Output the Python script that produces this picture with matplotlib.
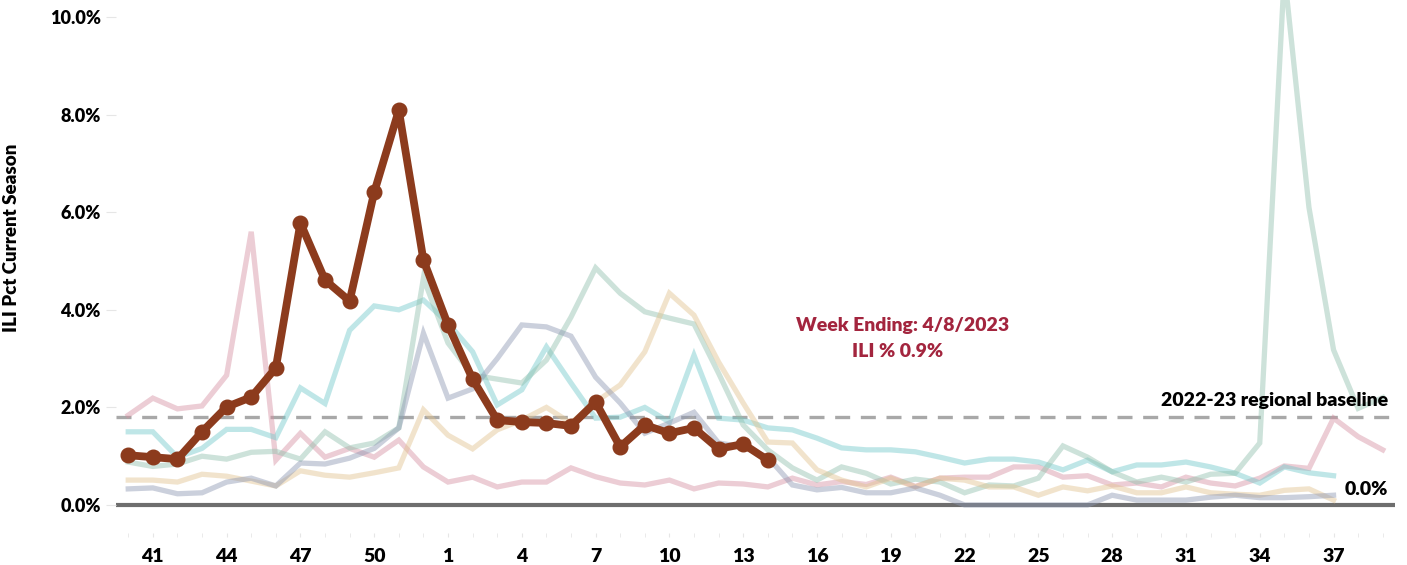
import matplotlib.pyplot as plt
import numpy as np

plt.rcParams['font.family'] = ['Lato', 'DejaVu Sans']
plt.rcParams['font.weight'] = 'heavy'
plt.rcParams['axes.labelweight'] = 'heavy'

weeks = list(range(40, 53)) + list(range(1, 40))
tick_weeks = [41, 44, 47, 50, 1, 4, 7, 10, 13, 16, 19, 22, 25, 28, 31, 34, 37]

current = [1.02, 0.98, 0.94, 1.50, 2.01, 2.21, 2.81, 5.78, 4.61, 4.18, 6.41, 8.09, 5.02,
           3.69, 2.58, 1.74, 1.70, 1.68, 1.62, 2.11, 1.19, 1.64, 1.47, 1.58, 1.15, 1.25, 0.92]

pink = [1.84, 2.19, 1.97, 2.03, 2.66, 5.60, 0.92, 1.47, 0.98, 1.16, 0.98, 1.33, 0.78,
        0.47, 0.57, 0.37, 0.47, 0.47, 0.76, 0.58, 0.45, 0.41, 0.51, 0.33, 0.45, 0.43,
        0.37, 0.55, 0.41, 0.48, 0.42, 0.57, 0.38, 0.55, 0.57, 0.57, 0.78, 0.78, 0.57,
        0.60, 0.41, 0.45, 0.37, 0.57, 0.45, 0.39, 0.55, 0.80, 0.75, 1.78, 1.40, 1.13]

cyan = [1.50, 1.50, 0.98, 1.16, 1.55, 1.55, 1.38, 2.40, 2.08, 3.58, 4.08, 4.00, 4.20,
        3.73, 3.14, 2.05, 2.36, 3.24, 2.50, 1.78, 1.80, 2.00, 1.70, 3.07, 1.78, 1.74,
        1.58, 1.54, 1.37, 1.17, 1.13, 1.13, 1.09, 0.98, 0.86, 0.94, 0.94, 0.88, 0.72,
        0.92, 0.68, 0.82, 0.82, 0.88, 0.78, 0.65, 0.45, 0.78, 0.66, 0.60]

green = [0.88, 0.79, 0.84, 1.00, 0.94, 1.08, 1.10, 0.94, 1.50, 1.17, 1.27, 1.58, 4.65,
         3.32, 2.66, 2.58, 2.50, 2.97, 3.85, 4.86, 4.34, 3.96, 3.83, 3.71, 2.70, 1.64,
         1.13, 0.76, 0.51, 0.78, 0.65, 0.43, 0.53, 0.47, 0.25, 0.41, 0.39, 0.55, 1.21,
         0.98, 0.68, 0.47, 0.57, 0.47, 0.63, 0.65, 1.27, 10.9, 6.10, 3.18, 1.98, 2.20]

tan = [0.51, 0.51, 0.47, 0.63, 0.59, 0.49, 0.39, 0.70, 0.61, 0.57, 0.66, 0.76, 1.95,
       1.43, 1.15, 1.54, 1.74, 2.00, 1.68, 2.11, 2.46, 3.14, 4.34, 3.89, 2.93, 2.09,
       1.29, 1.27, 0.72, 0.51, 0.37, 0.55, 0.37, 0.55, 0.51, 0.37, 0.37, 0.20, 0.37,
       0.29, 0.39, 0.25, 0.25, 0.37, 0.25, 0.22, 0.20, 0.30, 0.33, 0.10]

slate = [0.33, 0.35, 0.23, 0.25, 0.47, 0.55, 0.39, 0.86, 0.84, 0.96, 1.16, 1.58, 3.52,
         2.19, 2.38, 3.00, 3.69, 3.65, 3.46, 2.62, 2.09, 1.47, 1.68, 1.90, 1.27, 1.19,
         0.98, 0.41, 0.31, 0.36, 0.25, 0.25, 0.35, 0.20, 0.00, 0.00, 0.00, 0.00, 0.00,
         0.00, 0.20, 0.10, 0.10, 0.10, 0.16, 0.20, 0.15, 0.15, 0.17, 0.20]

baseline = 1.8
ylim = (-0.57, 10.35)

fig = plt.figure(figsize=(14.07, 5.65), dpi=100)
ax = fig.add_axes([0.0824, 0.057, 0.9091, 0.943])

past = [(pink, '#d690a2'), (cyan, '#73c9cb'), (green, '#90c0ad'),
        (tan, '#e2c38f'), (slate, '#8d97b2')]
for vals, col in past:
    ax.plot(np.arange(len(vals)), vals, color=col, lw=3.8, alpha=0.45,
            solid_joinstyle='miter', zorder=2)

ax.axhline(baseline, color='#a8a8a8', lw=2.4, dashes=(4.5, 3.2), zorder=1)
ax.axhline(0, color='#6e6e6e', lw=3, zorder=1)

ax.plot(np.arange(len(current)), current, color='#8c3b1d', lw=5.6, marker='o',
        markersize=10.5, zorder=4)

ax.text(31.46, 3.67, 'Week Ending: 4/8/2023', color='#a3253e', fontsize=14,
        ha='center', va='center')
ax.text(31.26, 3.14, 'ILI % 0.9%', color='#a3253e', fontsize=14,
        ha='center', va='center')
ax.text(51.2, 2.15, '2022-23 regional baseline', color='black', fontsize=14,
        ha='right', va='center')
ax.text(51.2, 0.31, '0.0%', color='black', fontsize=14,
        ha='right', va='center')

ax.set_xlim(-0.5, 51.5)
ax.set_ylim(*ylim)
ax.set_xticks([weeks.index(w) for w in tick_weeks])
ax.set_xticklabels([str(w) for w in tick_weeks], fontsize=14)
ax.set_xticks(range(len(weeks)), minor=True)
ax.set_yticks([0, 2, 4, 6, 8, 10])
ax.set_yticklabels(['%.1f%%' % v for v in [0, 2, 4, 6, 8, 10]], fontsize=13)
ax.tick_params(axis='x', which='both', length=3, color='#e6e6e6', pad=8)
ax.tick_params(axis='y', length=7, color='#e6e6e6', pad=4)
ax.set_ylabel('ILI Pct Current Season', fontsize=13.5, fontweight='heavy')
ax.yaxis.set_label_coords(-0.075, 0.553)
for s in ax.spines.values():
    s.set_visible(False)

fig.savefig('out.png', dpi=100)
